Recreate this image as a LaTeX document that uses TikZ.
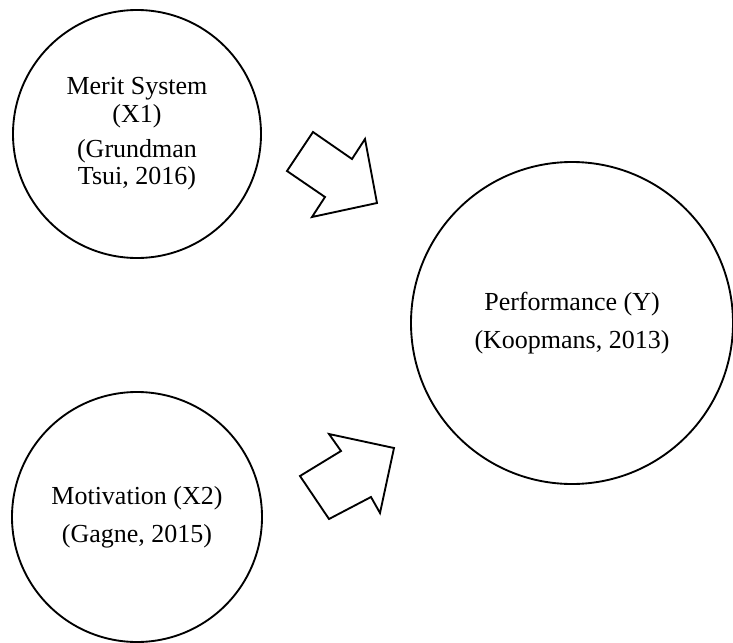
\documentclass[tikz,border=0pt]{standalone}
\usepackage{fontspec}
\setmainfont{Liberation Serif}
\usepackage{tikz}

\begin{document}
\begin{tikzpicture}[
            x = 0.75pt, y = -0.75pt, % work in pixels of the source
            line join = miter,
            font = \fontsize{19.5}{20.5}\selectfont,
            var/.style = {shape=circle, draw=black, line width=1.4pt, align=center, inner sep=0pt},
            blockarrow/.style = {draw=black, line width=1.4pt, fill=white}
        ]
\useasboundingbox (0,0) rectangle (733,643);

\node[var, minimum size=186pt] (X1) at (137,134) {Merit System\\(X1)\\[6pt](Grundman\\Tsui, 2016)};
\node[var, minimum size=187.5pt] (X2) at (137,517) {Motivation (X2)\\[8pt](Gagne, 2015)};
\node[var, minimum size=241.5pt] (Y) at (572,323) {Performance (Y)\\[8pt](Koopmans, 2013)};

% block arrows X1 -> Y and X2 -> Y
\draw[blockarrow] (313,132) -- (352,159) -- (365,139) -- (377,203) -- (312,217) -- (325,197) -- (287,171) -- cycle;
\draw[blockarrow] (394,448) -- (329,434) -- (341,451) -- (300,476) -- (329,519) -- (371,497) -- (380,513) -- cycle;
\end{tikzpicture}
\end{document}
